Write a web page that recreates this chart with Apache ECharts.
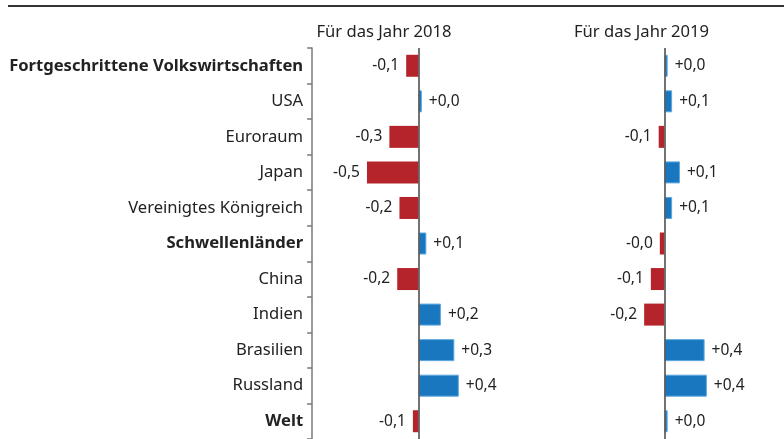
<!DOCTYPE html>
<html>
<head>
<meta charset="utf-8">
<script src="https://cdn.jsdelivr.net/npm/echarts@6/dist/echarts.min.js"></script>
<style>
html,body{margin:0;padding:0;background:#fff;}
#chart{width:784px;height:439px;}
</style>
</head>
<body>
<div id="chart"></div>
<script>
var categories = ['Fortgeschrittene Volkswirtschaften','USA','Euroraum','Japan','Vereinigtes Königreich','Schwellenländer','China','Indien','Brasilien','Russland','Welt'];
var boldCategories = ['Fortgeschrittene Volkswirtschaften','Schwellenländer','Welt'];
var values2018 = [-0.11, 0.03, -0.26, -0.46, -0.17, 0.07, -0.19, 0.20, 0.32, 0.36, -0.05];
var values2019 = [0.03, 0.07, -0.05, 0.14, 0.07, -0.04, -0.12, -0.18, 0.36, 0.38, 0.03];
var panelTitles = ['Für das Jahr 2018', 'Für das Jahr 2019'];

var FONT = 'Noto Sans';
var RED = '#b6242b';
var BLUE = '#1877be';
var AXIS_MIN = -0.95, AXIS_MAX = 0.95;
var PX_PER_UNIT = 112;
var panelWidth = (AXIS_MAX - AXIS_MIN) * PX_PER_UNIT;
var zeroX = [418.5, 664.3];

function fmt(v) {
  var s = v < 0 ? '-' : '+';
  return s + Math.abs(v).toFixed(1).replace('.', ',');
}
function buildData(vals) {
  return vals.map(function (v) {
    var neg = v < 0;
    return {
      value: v,
      itemStyle: neg ? { color: RED } : { color: BLUE, borderColor: '#5fa8e0', borderWidth: 1 },
      label: { position: neg ? 'left' : 'right' }
    };
  });
}

var chart = echarts.init(document.getElementById('chart'));
var grids = [], xAxes = [], yAxes = [], series = [];
[values2018, values2019].forEach(function (vals, i) {
  grids.push({ left: zeroX[i] + AXIS_MIN * PX_PER_UNIT, width: panelWidth, top: 48, height: 393, containLabel: false });
  xAxes.push({ type: 'value', gridIndex: i, min: AXIS_MIN, max: AXIS_MAX, show: false, splitLine: { show: false } });
  yAxes.push({
    type: 'category', gridIndex: i, data: categories, inverse: true,
    show: i === 0,
    axisLine: { show: i === 0, onZero: false, lineStyle: { color: '#7a7a7a', width: 1.5 } },
    axisTick: { show: i === 0, length: 5, lineStyle: { color: '#7a7a7a', width: 1.5 } },
    axisLabel: {
      show: i === 0, margin: 9, color: '#222',
      formatter: function (v) { return boldCategories.indexOf(v) >= 0 ? '{b|' + v + '}' : '{n|' + v + '}'; },
      rich: {
        b: { fontFamily: FONT, fontSize: 16.6, fontWeight: 'bold', color: '#222' },
        n: { fontFamily: FONT, fontSize: 16.6, color: '#222' }
      }
    }
  });
  series.push({
    type: 'bar', xAxisIndex: i, yAxisIndex: i, data: buildData(vals), barWidth: 22,
    label: { show: true, distance: 7, color: '#222', fontFamily: FONT, fontSize: 15.5,
      formatter: function (p) { return fmt(p.value); } },
    markLine: {
      silent: true, symbol: ['none', 'none'], label: { show: false }, animation: false,
      lineStyle: { color: 'rgba(90,90,90,0.85)', width: 2, type: 'solid' },
      data: [{ xAxis: 0 }]
    },
    animation: false
  });
});

var graphics = [
  { type: 'line', shape: { x1: 8, y1: 6, x2: 784, y2: 6 }, style: { stroke: '#333', lineWidth: 2 } }
];
var titleX = [384, 641.5];
panelTitles.forEach(function (t, i) {
  graphics.push({ type: 'text', x: titleX[i], y: 32, style: { text: t, fontFamily: FONT, fontSize: 16.6, fill: '#222', textAlign: 'center', textVerticalAlign: 'middle' } });
});

chart.setOption({
  animation: false,
  grid: grids, xAxis: xAxes, yAxis: yAxes, series: series, graphic: graphics
});
</script>
</body>
</html>
